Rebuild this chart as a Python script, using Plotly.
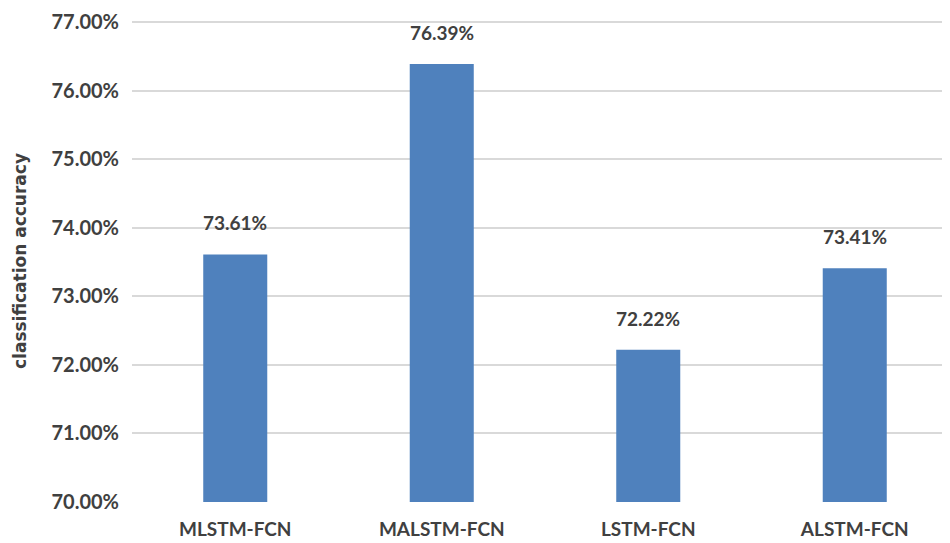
import plotly.graph_objects as go

categories = ["MLSTM-FCN", "MALSTM-FCN", "LSTM-FCN", "ALSTM-FCN"]
accuracy = [73.61, 76.39, 72.22, 73.41]
tick_values = [70, 71, 72, 73, 74, 75, 76, 77]

FONT = "Lato, 'Open Sans', Arial, sans-serif"
TXT = "#404040"

fig = go.Figure(go.Bar(
    x=categories, y=accuracy, marker_color="#4F81BD",
    marker_line_width=0, width=0.31,
))

for c, v in zip(categories, accuracy):
    fig.add_annotation(x=c, y=v, text=f"<b>{v:.2f}%</b>", showarrow=False,
                       yanchor="bottom", yshift=18,
                       font=dict(family=FONT, size=19, color=TXT, weight="bold"))

fig.add_annotation(xref="paper", yref="paper", x=0, y=0.5, xshift=-112,
                   text="<b>classification accuracy</b>", textangle=-90,
                   showarrow=False, xanchor="center", yanchor="middle",
                   font=dict(family="'DejaVu Sans', sans-serif", size=17,
                             color=TXT, weight="bold"))

fig.update_layout(
    width=950, height=543,
    margin=dict(l=124, r=0, t=12, b=49),
    plot_bgcolor="white", paper_bgcolor="white",
    showlegend=False,
    font=dict(family=FONT, color=TXT),
    xaxis=dict(showgrid=False, showline=False, ticks="outside", ticklen=10,
               tickcolor="rgba(0,0,0,0)",
               tickfont=dict(family=FONT, size=19, color=TXT, weight="bold")),
    yaxis=dict(range=[70, 77.03], tickvals=tick_values,
               ticktext=[f"{t:.2f}%" for t in tick_values],
               ticklabeloverflow="allow",
               showgrid=True, gridcolor="#D9D9D9", gridwidth=1.6,
               zeroline=False, showline=False, ticks="outside", ticklen=8,
               tickcolor="rgba(0,0,0,0)",
               tickfont=dict(family=FONT, size=20, color=TXT, weight="bold")),
)

fig.write_html("out.html")
